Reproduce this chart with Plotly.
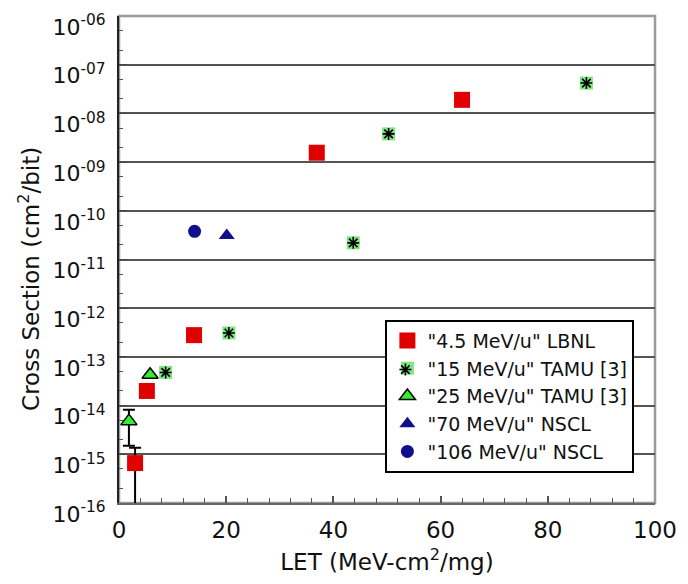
import plotly.graph_objects as go

# ---- data ----
lbnl_let = [3.0, 5.2, 14.0, 36.9, 64.0]
lbnl_cs = [6.6e-16, 2.0e-14, 2.8e-13, 1.56e-9, 1.9e-8]
lbnl_err_plus = [7.1e-16, None, None, None, None]
lbnl_err_minus = [6.59e-16, None, None, None, None]

tamu15_let = [8.7, 20.5, 43.7, 50.3, 87.2]
tamu15_cs = [4.8e-14, 3.1e-13, 2.2e-11, 3.8e-9, 4.2e-8]

tamu25_let = [1.85, 5.8]
tamu25_cs = [4.8e-15, 4.3e-14]
tamu25_err_plus = [3.4e-15, None]
tamu25_err_minus = [3.3e-15, None]

nscl70_let = [20.1]
nscl70_cs = [3.1e-11]

nscl106_let = [14.1]
nscl106_cs = [3.8e-11]

names = ['"4.5 MeV/u" LBNL', '"15 MeV/u" TAMU [3]', '"25 MeV/u" TAMU [3]',
         '"70 MeV/u" NSCL', '"106 MeV/u" NSCL']

y_exps = list(range(-16, -5))
y_tickvals = [10.0 ** e for e in y_exps]
y_ticktext = ["10<sup>-%02d</sup>" % (-e) for e in y_exps]
x_tickvals = [0, 20, 40, 60, 80, 100]

FONT = "DejaVu Sans"
LEG_FONT = 19

fig = go.Figure()
fig.add_trace(go.Scatter(
    x=lbnl_let, y=lbnl_cs, mode="markers", name=names[0],
    marker=dict(symbol="square", size=16, color="#e00000"),
    error_y=dict(type="data", array=lbnl_err_plus, arrayminus=lbnl_err_minus,
                 color="black", thickness=2, width=6, symmetric=False),
))
fig.add_trace(go.Scatter(
    x=tamu15_let, y=tamu15_cs, mode="markers", name=names[1],
    marker=dict(symbol="square", size=13, color="#80e680"),
))
fig.add_trace(go.Scatter(
    x=tamu15_let, y=tamu15_cs, mode="markers", name=" ",
    legend="legend2",
    marker=dict(symbol="asterisk-open", size=10, color="black",
                line=dict(color="black", width=1.6)),
))
fig.add_trace(go.Scatter(
    x=tamu25_let, y=tamu25_cs, mode="markers", name=names[2],
    marker=dict(symbol="triangle-up", size=14, color="#33ee33",
                line=dict(color="black", width=1.5)),
    error_y=dict(type="data", array=tamu25_err_plus, arrayminus=tamu25_err_minus,
                 color="black", thickness=2, width=6, symmetric=False),
))
fig.add_trace(go.Scatter(
    x=nscl70_let, y=nscl70_cs, mode="markers", name=names[3],
    marker=dict(symbol="triangle-up", size=14, color="#10108c"),
))
fig.add_trace(go.Scatter(
    x=nscl106_let, y=nscl106_cs, mode="markers", name=names[4],
    marker=dict(symbol="circle", size=13, color="#10108c"),
))

# plot frame (top/right gray)
fig.add_shape(type="rect", xref="paper", yref="paper", x0=0, y0=0, x1=1, y1=1,
              line=dict(color="#9a9a9a", width=2.5), layer="below")

# y-axis title (slightly below centre, as in the reference)
fig.add_annotation(text="Cross Section (cm<sup>2</sup>/bit)", xref="paper", yref="paper",
                   x=-0.168, y=0.46, xanchor="center", yanchor="middle", textangle=-90,
                   showarrow=False, font=dict(size=23, family=FONT, color="#111"))

fig.update_layout(
    width=688, height=584,
    margin=dict(l=119, r=26, t=11, b=81),
    paper_bgcolor="white", plot_bgcolor="white",
    font=dict(family=FONT, color="#111"),
    showlegend=True,
    legend=dict(x=0.497, y=0.3763, xanchor="left", yanchor="top",
                bgcolor="white", bordercolor="black", borderwidth=2,
                font=dict(size=LEG_FONT, family=FONT, color="#111"),
                tracegroupgap=0, itemwidth=30),
    legend2=dict(x=0.497, y=0.3127, xanchor="left", yanchor="top",
                 bgcolor="rgba(0,0,0,0)", borderwidth=0,
                 font=dict(size=LEG_FONT, family=FONT), itemwidth=30),
    xaxis=dict(range=[0, 100], tickvals=x_tickvals, ticks="inside", ticklen=7,
               tickwidth=1.5, tickcolor="#555", showgrid=False, zeroline=False,
               showline=True, linecolor="#666", linewidth=2,
               minor=dict(dtick=4, ticks="inside", ticklen=5, tickcolor="#555", tickwidth=1.2),
               tickfont=dict(size=23, family=FONT, color="#111"),
               ticklabelstandoff=5,
               title=dict(text="LET (MeV-cm<sup>2</sup>/mg)", font=dict(size=23, family=FONT),
                          standoff=12)),
    yaxis=dict(type="log", range=[-16, -5.9995], tickvals=y_tickvals, ticktext=y_ticktext,
               ticks="inside", ticklen=8, tickcolor="#444", tickwidth=1.2,
               showgrid=True, gridcolor="#555", gridwidth=1.5, zeroline=False,
               showline=True, linecolor="#222", linewidth=2,
               minor=dict(ticks="inside", ticklen=4, tickcolor="#555", tickwidth=1, showgrid=False),
               tickfont=dict(size=22, family=FONT, color="#111"),
               ticklabelstandoff=7, ticklabelshift=11),
)

fig.write_html("out.html")
